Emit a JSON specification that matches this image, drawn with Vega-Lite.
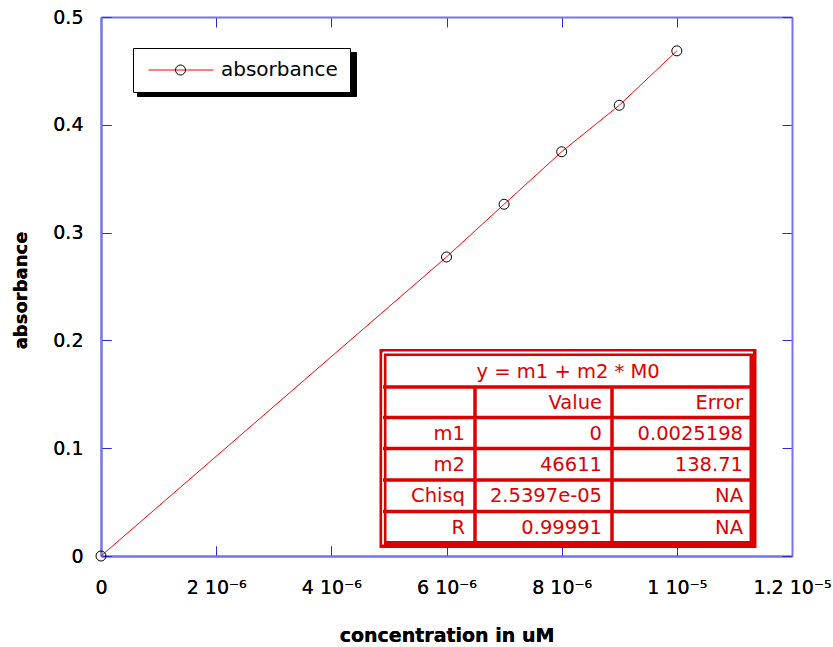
{
  "$schema": "https://vega.github.io/schema/vega-lite/v6.json",
  "width": 691,
  "height": 539,
  "autosize": {"type": "none"},
  "padding": {"left": 101, "top": 17, "right": 41, "bottom": 91},
  "background": "white",
  "config": {
    "font": "DejaVu Sans",
    "view": {"stroke": null},
    "axis": {
      "grid": false,
      "domainColor": "#7474ee",
      "domainWidth": 2,
      "tickColor": "#2a2ad8",
      "tickWidth": 1,
      "tickSize": -10,
      "labelColor": "black",
      "labelFont": "DejaVu Sans",
      "labelFontSize": 19,
      "labelFlush": false,
      "labelOverlap": false,
      "labelBound": false,
      "titleColor": "black",
      "titleFont": "DejaVu Sans",
      "titleFontWeight": "bold"
    },
    "legend": {"labelFont": "DejaVu Sans"}
  },
  "datasets": {
    "points": [
      {"concentration": 0, "absorbance": 0},
      {"concentration": 6e-6, "absorbance": 0.2774},
      {"concentration": 7e-6, "absorbance": 0.3263},
      {"concentration": 8e-6, "absorbance": 0.3750},
      {"concentration": 9e-6, "absorbance": 0.4181},
      {"concentration": 1e-5, "absorbance": 0.4686}
    ],
    "cells": [
      {"row": 1, "col": 2, "text": "Value"},
      {"row": 1, "col": 3, "text": "Error"},
      {"row": 2, "col": 1, "text": "m1 "},
      {"row": 2, "col": 2, "text": "0"},
      {"row": 2, "col": 3, "text": "0.0025198"},
      {"row": 3, "col": 1, "text": "m2 "},
      {"row": 3, "col": 2, "text": "46611"},
      {"row": 3, "col": 3, "text": "138.71"},
      {"row": 4, "col": 1, "text": "Chisq"},
      {"row": 4, "col": 2, "text": "2.5397e-05"},
      {"row": 4, "col": 3, "text": "NA"},
      {"row": 5, "col": 1, "text": "R"},
      {"row": 5, "col": 2, "text": "0.99991"},
      {"row": 5, "col": 3, "text": "NA"}
    ],
    "header": [{"text": "y = m1 + m2 * M0"}],
    "rowLines": [{"b": 1}, {"b": 2}, {"b": 3}, {"b": 4}, {"b": 5}],
    "colLines": [{"b": 1}, {"b": 2}],
    "frame": [{"part": "table"}]
  },
  "layer": [
    {
      "data": {"name": "points"},
      "encoding": {
        "x": {
          "field": "concentration",
          "type": "quantitative",
          "scale": {"domain": [0, 1.2e-5], "nice": false, "zero": false},
          "axis": {
            "orient": "bottom",
            "values": [0, 2e-6, 4e-6, 6e-6, 8e-6, 1e-5, 1.2e-5],
            "labelExpr": "['0','2 10⁻⁶','4 10⁻⁶','6 10⁻⁶','8 10⁻⁶','1 10⁻⁵','1.2 10⁻⁵'][round(datum.value/2e-6)]",
            "labelPadding": 32,
            "title": "concentration in uM",
            "titleFontSize": 19,
            "titleY": 85,
            "titleBaseline": "alphabetic"
          }
        },
        "y": {
          "field": "absorbance",
          "type": "quantitative",
          "scale": {"domain": [0, 0.5], "nice": false, "zero": false},
          "axis": {
            "orient": "left",
            "values": [0, 0.1, 0.2, 0.3, 0.4, 0.5],
            "format": ".1~f",
            "labelPadding": 28,
            "title": "absorbance",
            "titleFontSize": 18,
            "titleX": -75,
            "titleY": 273,
            "titleAngle": -90,
            "titleAlign": "center",
            "titleBaseline": "alphabetic"
          }
        }
      },
      "layer": [
        {
          "mark": {"type": "point", "opacity": 0},
          "encoding": {
            "fill": {
              "datum": "shadow",
              "scale": {"range": ["black"]},
              "legend": {
                "orient": "none",
                "legendX": 36,
                "legendY": 35,
                "title": null,
                "padding": 12,
                "fillColor": "black",
                "strokeColor": "black",
                "clipHeight": 20,
                "symbolOffset": 3,
                "labelOffset": 7,
                "symbolType": "M-1,0L1,0",
                "symbolSize": 33489,
                "symbolOpacity": 0,
                "labelFontSize": 20,
                "labelOpacity": 0,
                "labelExpr": "''"
              }
            }
          }
        },
        {
          "mark": {"type": "line", "strokeWidth": 1},
          "encoding": {
            "stroke": {
              "datum": "absorbance",
              "scale": {"range": ["#ff0000"]},
              "legend": {
                "orient": "none",
                "legendX": 32,
                "legendY": 31,
                "title": null,
                "padding": 12,
                "fillColor": "white",
                "strokeColor": "black",
                "clipHeight": 20,
                "symbolOffset": 3,
                "labelOffset": 7,
                "symbolType": "M-1,0L1,0",
                "symbolSize": 4225,
                "symbolStrokeWidth": 1,
                "labelFontSize": 20,
                "labelColor": "black"
              }
            }
          }
        },
        {
          "mark": {"type": "point", "filled": false, "size": 100, "strokeWidth": 1, "color": "black", "opacity": 1},
          "encoding": {
            "x": {
              "field": "concentration",
              "type": "quantitative",
              "axis": {
                "orient": "top",
                "values": [0, 2e-6, 4e-6, 6e-6, 8e-6, 1e-5, 1.2e-5],
                "labels": false,
                "title": null
              }
            },
            "y": {
              "field": "absorbance",
              "type": "quantitative",
              "axis": {
                "orient": "right",
                "values": [0, 0.1, 0.2, 0.3, 0.4, 0.5],
                "labels": false,
                "title": null
              }
            },
            "shape": {
              "datum": "o",
              "scale": {"range": ["circle"]},
              "legend": {
                "orient": "none",
                "legendX": 74,
                "legendY": 47.5,
                "title": null,
                "padding": 0,
                "symbolType": "circle",
                "symbolSize": 100,
                "symbolStrokeColor": "black",
                "symbolFillColor": "transparent",
                "symbolStrokeWidth": 1,
                "labelExpr": "''",
                "labelOpacity": 0
              }
            }
          }
        }
      ]
    },
    {
      "layer": [
        {
          "data": {"name": "frame"},
          "mark": {"type": "rect", "fill": "white", "stroke": "#dd0000", "strokeWidth": 7},
          "encoding": {
            "x": {"datum": 0, "type": "quantitative", "scale": {"domain": [0, 1, 2, 3], "range": [282, 374, 511, 652], "nice": false, "zero": false}, "axis": null},
            "x2": {"datum": 3},
            "y": {"datum": 0, "type": "quantitative", "scale": {"domain": [0, 1, 2, 3, 4, 5, 6], "range": [335.5, 370, 400.5, 431.5, 463, 494.5, 527.5], "nice": false, "zero": false}, "axis": null},
            "y2": {"datum": 6}
          }
        },
        {
          "data": {"name": "frame"},
          "mark": {"type": "rule", "stroke": "white", "strokeWidth": 1.8},
          "encoding": {
            "x": {"datum": 0, "type": "quantitative", "axis": null},
            "x2": {"datum": 3},
            "y": {"datum": 0, "type": "quantitative", "axis": null}
          }
        },
        {
          "data": {"name": "frame"},
          "mark": {"type": "rule", "stroke": "white", "strokeWidth": 1.8},
          "encoding": {
            "x": {"datum": 0, "type": "quantitative", "axis": null},
            "y": {"datum": 0, "type": "quantitative", "axis": null},
            "y2": {"datum": 6}
          }
        },
        {
          "data": {"name": "rowLines"},
          "mark": {"type": "rule", "stroke": "#dd0000", "strokeWidth": 3.5},
          "encoding": {
            "x": {"datum": 0, "type": "quantitative", "axis": null},
            "x2": {"datum": 3},
            "y": {"field": "b", "type": "quantitative", "axis": null}
          }
        },
        {
          "data": {"name": "colLines"},
          "mark": {"type": "rule", "stroke": "#dd0000", "strokeWidth": 3.5},
          "encoding": {
            "x": {"field": "b", "type": "quantitative", "axis": null},
            "y": {"datum": 1, "type": "quantitative", "axis": null},
            "y2": {"datum": 6}
          }
        },
        {
          "data": {"name": "header"},
          "mark": {"type": "text", "fill": "#e00000", "fontSize": 19.5, "align": "center", "baseline": "middle", "dy": 19.5, "font": "DejaVu Sans"},
          "encoding": {
            "x": {"datum": 1.68, "type": "quantitative", "axis": null},
            "y": {"datum": 0, "type": "quantitative", "axis": null},
            "text": {"field": "text"}
          }
        },
        {
          "data": {"name": "cells"},
          "mark": {"type": "text", "fill": "#e00000", "fontSize": 19.5, "align": "right", "baseline": "middle", "dx": -10, "dy": 16, "font": "DejaVu Sans"},
          "encoding": {
            "x": {"field": "col", "type": "quantitative", "axis": null},
            "y": {"field": "row", "type": "quantitative", "axis": null},
            "text": {"field": "text"}
          }
        }
      ]
    }
  ],
  "resolve": {"scale": {"x": "independent", "y": "independent"}}
}
